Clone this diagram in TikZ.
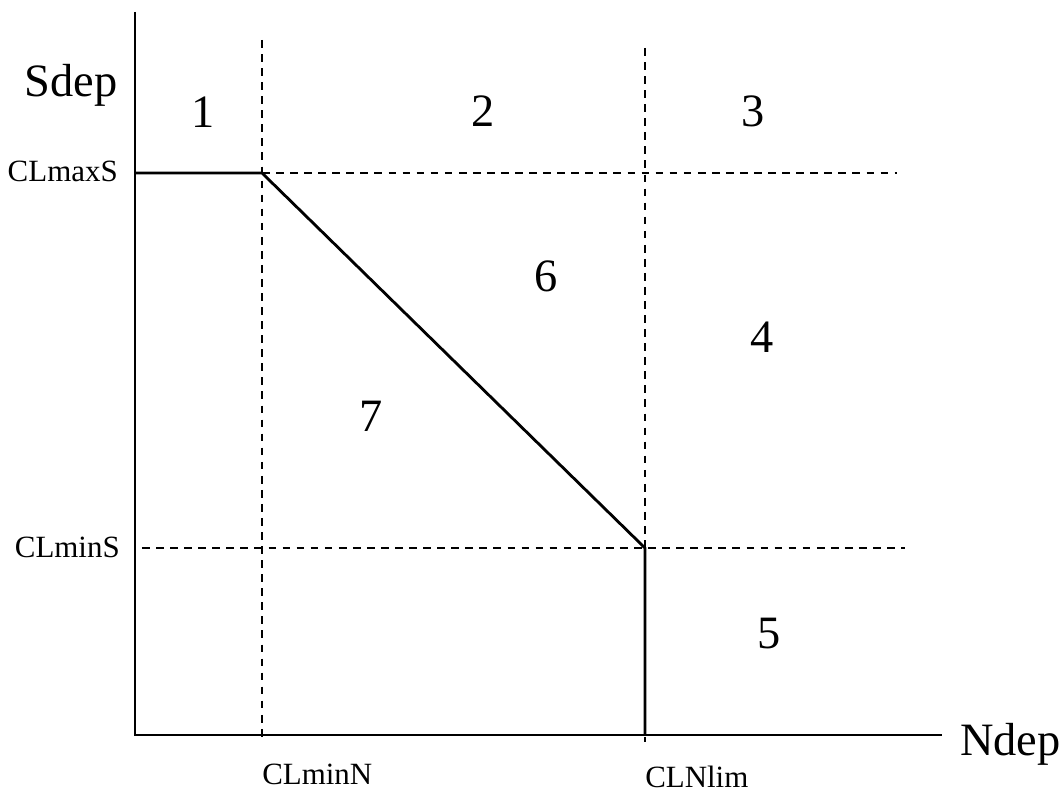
\documentclass[tikz,border=0pt]{standalone}
\usepackage{fontspec}
\setmainfont{Liberation Serif}

\begin{document}
\begin{tikzpicture}[
    x=1cm,
    y=1cm,
    line cap=butt,
    every node/.style={inner sep=0pt},
    axis/.style={line width=1.4pt},
    curve/.style={line width=2pt, line join=miter},
    limit/.style={line width=1pt, dash pattern=on 5.5pt off 4.5pt},
    bigtxt/.style={font=\fontsize{33}{36}\selectfont, anchor=base},
    smalltxt/.style={font=\fontsize{22}{24}\selectfont}
]

\useasboundingbox (-3.375,-1.5) rectangle (23.225,18.375);

% Key points
\coordinate (O)    at (0,0);
\coordinate (ytop) at (0,18.075);
\coordinate (xend) at (20.175,0);
\coordinate (Smax) at (0,14.05);
\coordinate (kink) at (3.175,14.05);
\coordinate (foot) at (12.75,4.675);
\coordinate (Nlim) at (12.75,0);

% Dashed limits
\draw[limit] (3.175,17.375) -- (3.175,-0.175);
\draw[limit] (12.75,17.175) -- (12.75,-0.175);
\draw[limit] (kink) -- (19.05,14.05);
\draw[limit] (0.175,4.675) -- (19.25,4.675);

% Axes
\draw[axis] (ytop) -- (O) -- (xend);

% Boundary line
\draw[curve] (Smax) -- (kink) -- (foot) -- (Nlim);

% Axis labels
\node[bigtxt, anchor=base east] (sdep) at (-0.425,15.95) {Sdep};
\node[bigtxt, anchor=base west] (ndep) at (20.625,-0.5) {Ndep};
\node[smalltxt, anchor=base east] (clmaxs) at (-0.425,13.825) {CLmaxS};
\node[smalltxt, anchor=base east] (clmins) at (-0.375,4.425) {CLminS};
\node[smalltxt, anchor=base west] (clminn) at (3.175,-1.225) {CLminN};
\node[smalltxt, anchor=base west] (clnlim) at (12.75,-1.3) {CLNlim};

% Zone numbers
\foreach \name/\x/\y in {1/1.7/15.175, 2/8.7/15.2, 3/15.45/15.2,
                         6/10.275/11.075, 4/15.675/9.55,
                         7/5.9/7.575, 5/15.85/2.175}{
    \node[bigtxt] (zone\name) at (\x,\y) {\name};
}

\end{tikzpicture}
\end{document}
